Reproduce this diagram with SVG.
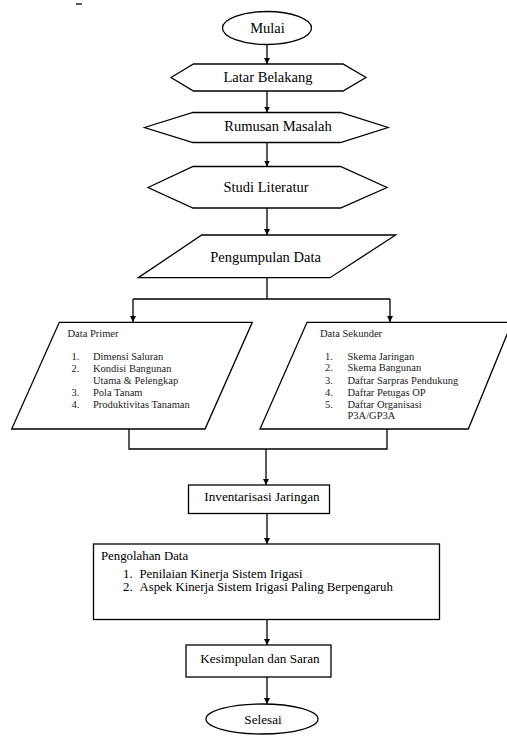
<svg xmlns="http://www.w3.org/2000/svg" width="507" height="736" viewBox="0 0 507 736">
<defs>
<style>
.s{fill:#fff;stroke:#000;stroke-width:1.3}
.c{fill:none;stroke:#000;stroke-width:1.3}
.t{fill:#000}
.big{font-size:14.5px;text-anchor:middle}
.mid{font-size:13.2px;text-anchor:middle}
.sm{font-size:10.5px;fill:#222}
.pg{font-size:12.8px}
</style>
<marker id="ah" viewBox="0 0 10 10" refX="10" refY="5" markerWidth="6" markerHeight="6" orient="auto" markerUnits="userSpaceOnUse">
<path d="M0,0 L10,5 L0,10 z" fill="#000"/>
</marker>
</defs>
<rect width="507" height="736" fill="#fff"/>
<line x1="76" y1="4" x2="82" y2="4" stroke="#000" stroke-width="1.3"/>

<g id="connectors">
<line class="c" x1="267" y1="44" x2="267" y2="64" marker-end="url(#ah)"/>
<line class="c" x1="267" y1="91" x2="267" y2="112.5" marker-end="url(#ah)"/>
<line class="c" x1="267" y1="142.5" x2="267" y2="166.5" marker-end="url(#ah)"/>
<line class="c" x1="267" y1="208" x2="267" y2="235" marker-end="url(#ah)"/>
<polyline class="c" points="267,278 267,299"/>
<line class="c" x1="133" y1="299" x2="390" y2="299"/>
<line class="c" x1="133" y1="299" x2="133" y2="322" marker-end="url(#ah)"/>
<line class="c" x1="390" y1="299" x2="390" y2="322" marker-end="url(#ah)"/>
<polyline class="c" points="129,429 129,449 387,449 387,429"/>
<line class="c" x1="266" y1="449" x2="266" y2="485" marker-end="url(#ah)"/>
<line class="c" x1="267" y1="513.5" x2="267" y2="544" marker-end="url(#ah)"/>
<line class="c" x1="267" y1="619.5" x2="267" y2="645" marker-end="url(#ah)"/>
<line class="c" x1="267" y1="677" x2="267" y2="704" marker-end="url(#ah)"/>
</g>

<g font-family="'Liberation Serif', 'DejaVu Serif', 'Times New Roman', serif">
<g id="mulai">
<ellipse class="s" cx="267" cy="28" rx="44.5" ry="16.5"/>
<text class="t big" x="267.5" y="32.5">Mulai</text>
</g>

<g id="latar-belakang">
<polygon class="s" points="171,77.5 193.5,64 343,64 366,77.5 343,91 193.5,91"/>
<text class="t big" x="268" y="82">Latar Belakang</text>
</g>

<g id="rumusan-masalah">
<polygon class="s" points="144.5,127.5 193,112.5 340.5,112.5 388,127.5 340.5,142.5 193,142.5"/>
<text class="t big" x="278" y="131">Rumusan Masalah</text>
</g>

<g id="studi-literatur">
<polygon class="s" points="148,187.5 193,166.5 340.5,166.5 387,187.5 340.5,208 193,208"/>
<text class="t big" x="266" y="191.5">Studi Literatur</text>
</g>

<g id="pengumpulan-data">
<polygon class="s" points="201.7,235 395.7,235 330,277.7 138.3,277.7"/>
<text class="t big" x="265.5" y="261.5">Pengumpulan Data</text>
</g>

<g id="data-primer">
<polygon class="s" points="59.3,322.3 252.3,322.3 205,429 11.7,429"/>
<text class="t sm" x="67.5" y="336.5">Data Primer</text>
<text class="t sm" x="71.5" y="359.5">1.</text>
<text class="t sm" x="93" y="359.5">Dimensi Saluran</text>
<text class="t sm" x="71.5" y="371.5">2.</text>
<text class="t sm" x="93" y="371.5">Kondisi Bangunan</text>
<text class="t sm" x="93" y="383.5">Utama &amp; Pelengkap</text>
<text class="t sm" x="71.5" y="396">3.</text>
<text class="t sm" x="93" y="396">Pola Tanam</text>
<text class="t sm" x="71.5" y="407.5">4.</text>
<text class="t sm" x="93" y="407.5">Produktivitas Tanaman</text>
</g>

<g id="data-sekunder">
<polygon class="s" points="307,322.3 512,322.3 468.3,429 260,429"/>
<text class="t sm" x="320" y="336.5">Data Sekunder</text>
<text class="t sm" x="325" y="359.5">1.</text>
<text class="t sm" x="347.5" y="359.5">Skema Jaringan</text>
<text class="t sm" x="325" y="371">2.</text>
<text class="t sm" x="347.5" y="371">Skema Bangunan</text>
<text class="t sm" x="325" y="383.5">3.</text>
<text class="t sm" x="347.5" y="383.5">Daftar Sarpras Pendukung</text>
<text class="t sm" x="325" y="396">4.</text>
<text class="t sm" x="347.5" y="396">Daftar Petugas OP</text>
<text class="t sm" x="325" y="407.5">5.</text>
<text class="t sm" x="347.5" y="407.5">Daftar Organisasi</text>
<text class="t sm" x="347.5" y="418.5">P3A/GP3A</text>
</g>

<g id="inventarisasi-jaringan">
<rect class="s" x="188.5" y="485" width="141" height="28.5"/>
<text class="t mid" x="262" y="500.5">Inventarisasi Jaringan</text>
</g>

<g id="pengolahan-data">
<rect class="s" x="93.5" y="544" width="346" height="75.5"/>
<text class="t pg" x="101" y="559.5">Pengolahan Data</text>
<text class="t pg" x="123" y="577.5">1.</text>
<text class="t pg" x="139.5" y="577.5">Penilaian Kinerja Sistem Irigasi</text>
<text class="t pg" x="123" y="591">2.</text>
<text class="t pg" x="139.5" y="591">Aspek Kinerja Sistem Irigasi Paling Berpengaruh</text>
</g>

<g id="kesimpulan-dan-saran">
<rect class="s" x="186" y="645" width="145" height="32"/>
<text class="t mid" x="260" y="662.5">Kesimpulan dan Saran</text>
</g>

<g id="selesai">
<ellipse class="s" cx="262" cy="719" rx="56" ry="15"/>
<text class="t mid" x="263" y="723.5">Selesai</text>
</g>
</g>
</svg>
